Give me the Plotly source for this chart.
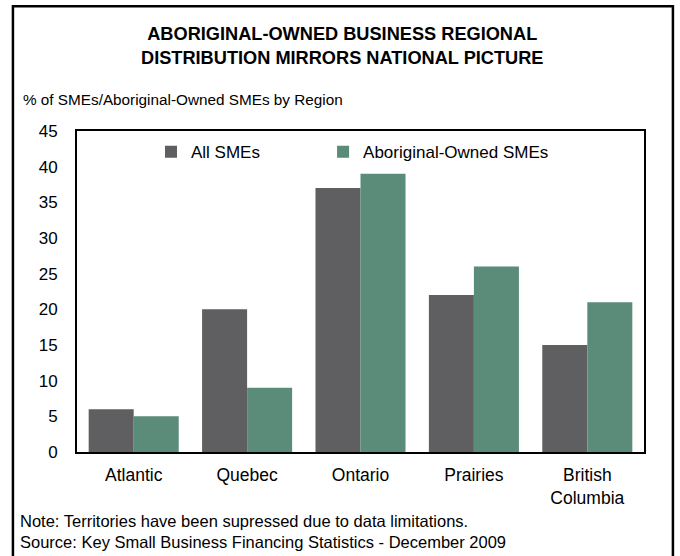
import plotly.graph_objects as go

regions = ["Atlantic", "Quebec", "Ontario", "Prairies", "British<br>Columbia"]
all_smes = [6, 20, 37, 22, 15]
aboriginal_smes = [5, 9, 39, 26, 21]
y_ticks = [0, 5, 10, 15, 20, 25, 30, 35, 40, 45]

FONT = "Liberation Sans, Arial, sans-serif"
GRAY = "#5f5f61"
GREEN = "#5b8c79"

fig = go.Figure()
fig.add_trace(go.Bar(x=regions, y=all_smes, name="All SMEs", legend="legend",
                     marker=dict(color=GRAY, line=dict(width=0))))
fig.add_trace(go.Bar(x=regions, y=aboriginal_smes, name="Aboriginal-Owned SMEs", legend="legend2",
                     marker=dict(color=GREEN, line=dict(width=0))))

legend_common = dict(orientation="h", y=0.99, xanchor="left", yanchor="top",
                     font=dict(size=17), itemwidth=30, bgcolor="rgba(0,0,0,0)")

fig.update_layout(
    width=680, height=556,
    margin=dict(l=77, r=36, t=131, b=104),
    paper_bgcolor="white", plot_bgcolor="white",
    font=dict(family=FONT, size=16, color="black"),
    barmode="group", bargap=0.206, bargroupgap=0,
    showlegend=True,
    legend=dict(x=0.1305, **legend_common),
    legend2=dict(x=0.434, **legend_common),
    xaxis=dict(showline=True, linecolor="black", linewidth=2, mirror=True,
               ticks="", showgrid=False, tickfont=dict(size=17.5), ticklabelstandoff=6),
    yaxis=dict(range=[0, 45], tickvals=y_ticks, showline=True, linecolor="black",
               linewidth=2, mirror=True, ticks="", showgrid=False, zeroline=False,
               tickfont=dict(size=17), ticklabelstandoff=14),
    shapes=[dict(type="rect", xref="paper", yref="paper",
                 x0=-0.113, x1=1.051, y0=-0.33, y1=1.389,
                 line=dict(color="black", width=2.5), fillcolor="rgba(0,0,0,0)", layer="below")],
    annotations=[
        dict(text="<b>ABORIGINAL-OWNED BUSINESS REGIONAL<br>DISTRIBUTION MIRRORS NATIONAL PICTURE</b>",
             xref="paper", yref="paper", x=0.467, y=1.266, xanchor="center", yanchor="middle",
             showarrow=False, font=dict(size=18.2), align="center"),
        dict(text="% of SMEs/Aboriginal-Owned SMEs by Region",
             xref="paper", yref="paper", x=-0.0985, y=1.0966, xanchor="left", yanchor="middle",
             showarrow=False, font=dict(size=15.3)),
        dict(text="Note: Territories have been supressed due to data limitations.<br>Source: Key Small Business Financing Statistics - December 2009",
             xref="paper", yref="paper", x=-0.104, y=-0.2477, xanchor="left", yanchor="middle",
             showarrow=False, font=dict(size=16.5), align="left"),
    ],
)

fig.write_html("out.html", config={"displayModeBar": False},
               post_script="document.body.style.margin='0';")
